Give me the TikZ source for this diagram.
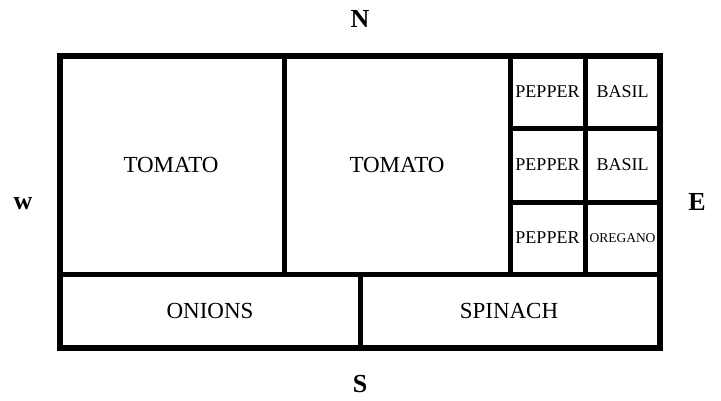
\documentclass[tikz,border=0pt]{standalone}
\usepackage{fontspec}
\setmainfont{Liberation Serif}

\begin{document}
\begin{tikzpicture}[x=1pt,y=-1pt,
        bed/.style={line width=5pt},
        crop/.style={inner sep=0pt, font=\fontsize{23}{23}\selectfont},
        herb/.style={inner sep=0pt, font=\fontsize{18}{18}\selectfont},
        compass/.style={inner sep=0pt, font=\fontsize{26}{26}\selectfont\bfseries}]
        \useasboundingbox (0,0) rectangle (721,400);

        % Outer border
        \draw[line width=6pt] (60,56) rectangle (660,348);

        % Beds
        \draw[bed] (60,274) -- (660,274);
        \draw[bed] (284,56) -- (284,274);
        \draw[bed] (510,56) -- (510,274);
        \draw[bed] (585,56) -- (585,274);
        \draw[bed] (510,128) -- (660,128);
        \draw[bed] (510,202.5) -- (660,202.5);
        \draw[bed] (360,274) -- (360,348);

        % Plants
        \node[crop] (tomatoA) at (171,165) {TOMATO};
        \node[crop] (tomatoB) at (397,165) {TOMATO};
        \foreach \y/\n in {92/1,165/2,238/3}
            \node[herb] (pepper\n) at (547.5,\y) {PEPPER};
        \node[herb] (basilA) at (622.5,92) {BASIL};
        \node[herb] (basilB) at (622.5,165) {BASIL};
        \node[herb, font=\fontsize{13.5}{13.5}\selectfont] (oregano) at (622.5,238) {OREGANO};
        \node[crop] (onions) at (210,311) {ONIONS};
        \node[crop] (spinach) at (509,311) {SPINACH};

        % Compass
        \node[compass] (labelN) at (360,19) {N};
        \node[compass] (labelS) at (360,384) {S};
        \node[compass] (labelW) at (23,204) {w};
        \node[compass] (labelE) at (697,202) {E};
    \end{tikzpicture}
\end{document}
